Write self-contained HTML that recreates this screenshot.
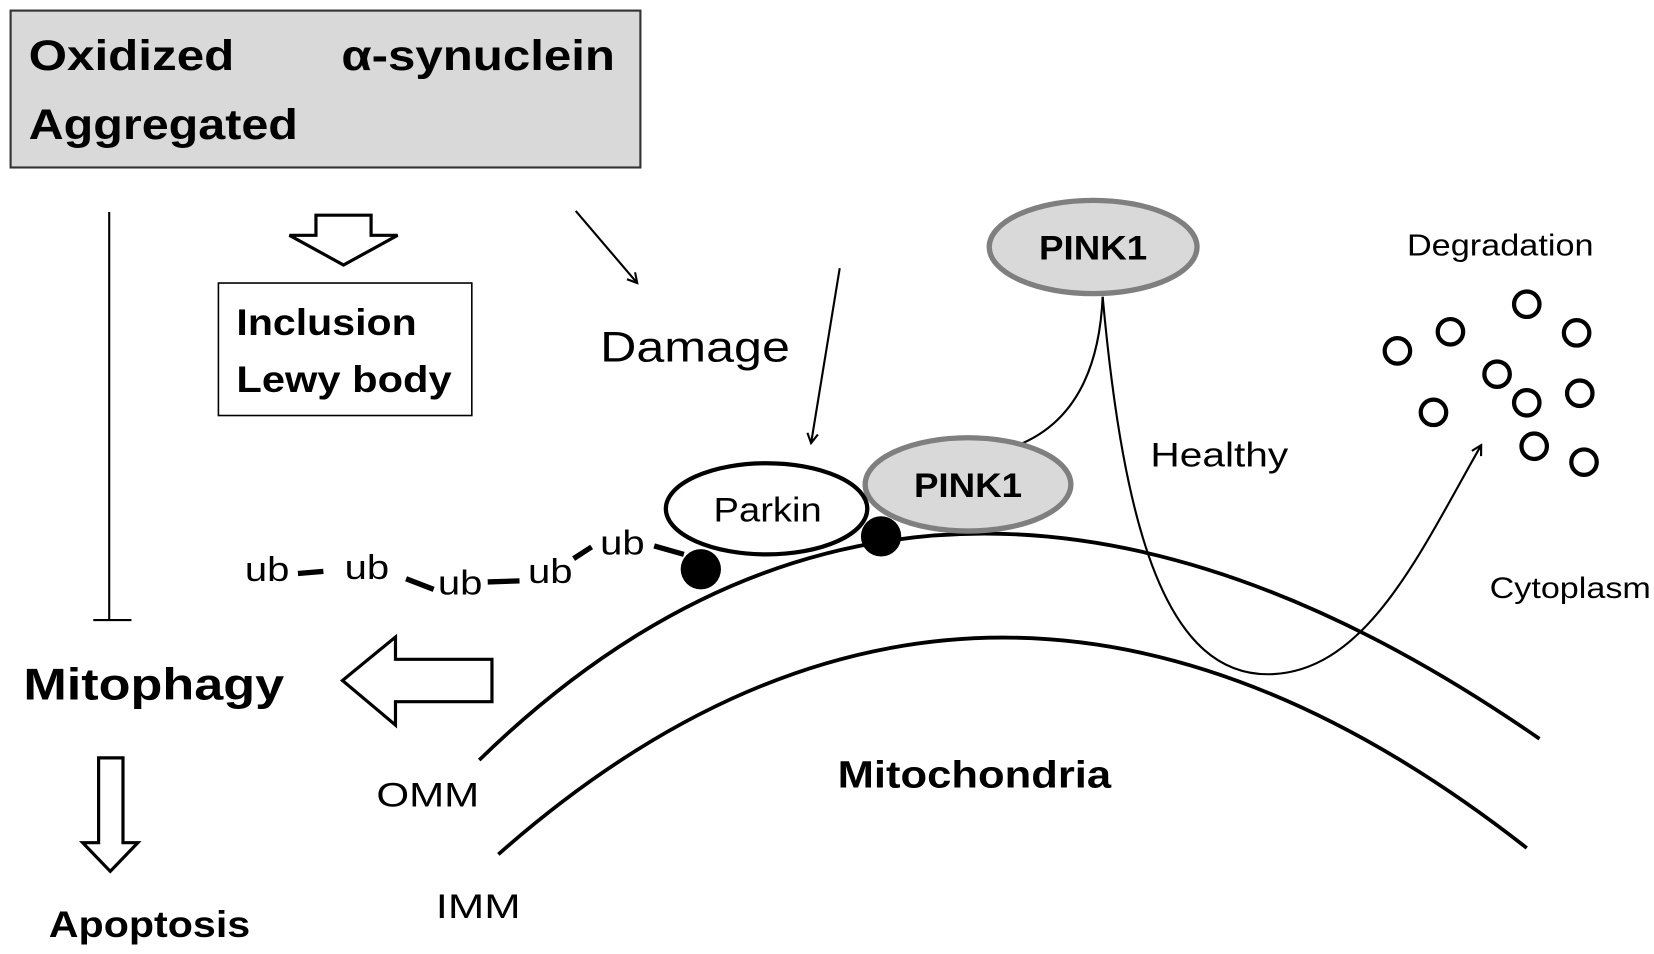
<!DOCTYPE html>
<html><head><style>html,body{margin:0;padding:0;background:#fff}svg{display:block}</style></head>
<body>
<svg width="1654" height="954" viewBox="0 0 1560 900" preserveAspectRatio="none" xmlns="http://www.w3.org/2000/svg" font-family="Liberation Sans, sans-serif">
<defs><marker id="a" markerWidth="12" markerHeight="12" refX="10" refY="6" orient="auto" markerUnits="userSpaceOnUse"><path d="M1,1 L10,6 L1,11" fill="none" stroke="#000" stroke-width="2"/></marker></defs>
<rect x="10" y="10" width="594" height="148" fill="#d9d9d9" stroke="#333" stroke-width="2"/>
<g lengthAdjust="spacingAndGlyphs">
<text x="27" y="66" font-size="40" font-weight="bold" textLength="194" lengthAdjust="spacingAndGlyphs">Oxidized</text>
<text x="322" y="66" font-size="40" font-weight="bold" textLength="258" lengthAdjust="spacingAndGlyphs">α-synuclein</text>
<text x="27" y="131" font-size="40" font-weight="bold" textLength="254" lengthAdjust="spacingAndGlyphs">Aggregated</text>
</g>
<line x1="103" y1="200" x2="103" y2="585" stroke="#000" stroke-width="2"/>
<line x1="88" y1="585" x2="124" y2="585" stroke="#000" stroke-width="2"/>
<path d="M298,203 H350 V222 H375 L324,250 L273,222 H298 Z" fill="#fff" stroke="#000" stroke-width="3"/>
<rect x="206" y="267" width="239" height="125" fill="#fff" stroke="#000" stroke-width="1.5"/>
<text x="223" y="316" font-size="35" font-weight="bold" textLength="170" lengthAdjust="spacingAndGlyphs">Inclusion</text>
<text x="223" y="370" font-size="35" font-weight="bold" textLength="203" lengthAdjust="spacingAndGlyphs">Lewy body</text>
<line x1="543" y1="199" x2="601" y2="267" stroke="#000" stroke-width="2" marker-end="url(#a)"/>
<text x="566" y="341" font-size="40" textLength="179" lengthAdjust="spacingAndGlyphs">Damage</text>
<line x1="792" y1="253" x2="765" y2="418" stroke="#000" stroke-width="2" marker-end="url(#a)"/>
<path d="M452,717 Q880,300 1452,697" fill="none" stroke="#000" stroke-width="3.5"/>
<path d="M470,806 Q930,400 1440,800" fill="none" stroke="#000" stroke-width="3.5"/>
<path d="M1040,280 Q1035,390 960,420" fill="none" stroke="#000" stroke-width="2"/>
<path d="M1040,280 C1060,500 1100,640 1200,636 C1290,632 1340,520 1397,420" fill="none" stroke="#000" stroke-width="2" marker-end="url(#a)"/>
<ellipse cx="1031" cy="233" rx="98" ry="44" fill="#d9d9d9" stroke="#7f7f7f" stroke-width="5"/>
<text x="980" y="245" font-size="32" font-weight="bold" textLength="102" lengthAdjust="spacingAndGlyphs">PINK1</text>
<ellipse cx="913" cy="457" rx="97" ry="44" fill="#d9d9d9" stroke="#7f7f7f" stroke-width="5"/>
<text x="862" y="469" font-size="32" font-weight="bold" textLength="102" lengthAdjust="spacingAndGlyphs">PINK1</text>
<ellipse cx="723" cy="480" rx="95" ry="43" fill="#fff" stroke="#000" stroke-width="4"/>
<text x="673" y="492" font-size="32" textLength="102" lengthAdjust="spacingAndGlyphs">Parkin</text>
<circle cx="661" cy="537" r="19" fill="#000"/>
<circle cx="831" cy="506" r="19" fill="#000"/>
<g font-size="32">
<text x="231" y="548" textLength="42" lengthAdjust="spacingAndGlyphs">ub</text><text x="325" y="546" textLength="42" lengthAdjust="spacingAndGlyphs">ub</text><text x="413" y="561" textLength="42" lengthAdjust="spacingAndGlyphs">ub</text><text x="498" y="550" textLength="42" lengthAdjust="spacingAndGlyphs">ub</text><text x="566" y="523" textLength="42" lengthAdjust="spacingAndGlyphs">ub</text>
</g>
<g stroke="#000" stroke-width="5">
<line x1="281" y1="541" x2="305" y2="539"/><line x1="383" y1="546" x2="409" y2="556"/><line x1="460" y1="549" x2="490" y2="548"/><line x1="541" y1="527" x2="558" y2="516"/><line x1="617" y1="515" x2="645" y2="523"/>
</g>
<text x="1085" y="440" font-size="32" textLength="130" lengthAdjust="spacingAndGlyphs">Healthy</text>
<text x="1327" y="241" font-size="29" textLength="176" lengthAdjust="spacingAndGlyphs">Degradation</text>
<text x="1405" y="564" font-size="28" textLength="152" lengthAdjust="spacingAndGlyphs">Cytoplasm</text>
<g fill="none" stroke="#000" stroke-width="4">
<circle cx="1318" cy="331" r="12"/><circle cx="1368" cy="313" r="12"/><circle cx="1440" cy="287" r="12"/><circle cx="1487" cy="314" r="12"/><circle cx="1412" cy="353" r="12"/><circle cx="1440" cy="380" r="12"/><circle cx="1490" cy="371" r="12"/><circle cx="1352" cy="389" r="12"/><circle cx="1447" cy="421" r="12"/><circle cx="1494" cy="436" r="12"/>
</g>
<path d="M464,622 V662 H373 V684 L323,642 L373,601 V622 Z" fill="#fff" stroke="#000" stroke-width="3"/>
<text x="22" y="660" font-size="42" font-weight="bold" textLength="246" lengthAdjust="spacingAndGlyphs">Mitophagy</text>
<path d="M93,715 H116 V795 H130 L104,822 L78,795 H93 Z" fill="#fff" stroke="#000" stroke-width="3"/>
<text x="46" y="884" font-size="35" font-weight="bold" textLength="190" lengthAdjust="spacingAndGlyphs">Apoptosis</text>
<text x="355" y="761" font-size="32" textLength="97" lengthAdjust="spacingAndGlyphs">OMM</text>
<text x="411" y="866" font-size="32" textLength="80" lengthAdjust="spacingAndGlyphs">IMM</text>
<text x="790" y="743" font-size="36" font-weight="bold" textLength="258" lengthAdjust="spacingAndGlyphs">Mitochondria</text>
</svg>
</body></html>
